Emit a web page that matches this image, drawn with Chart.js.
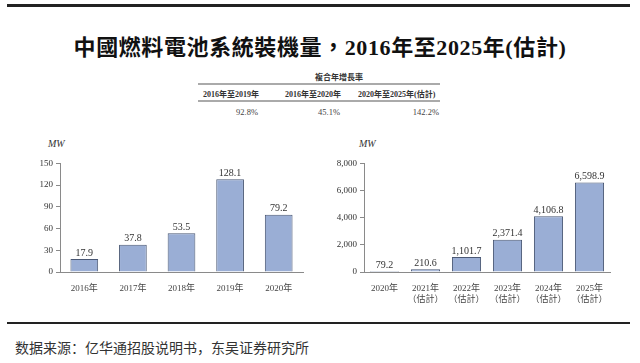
<!DOCTYPE html>
<html>
<head>
<meta charset="utf-8">
<script src="https://cdn.jsdelivr.net/npm/chart.js@4"></script>
<style>
  body { margin: 0; background: #fff; }
  #page { position: relative; width: 640px; height: 363px; overflow: hidden; background: #fff;
          font-family: "Liberation Serif", "Noto Sans CJK TC", serif; color: #222; }
  .rule { position: absolute; background: #222; }
  .abs { position: absolute; white-space: nowrap; }
  #title { left: 0; width: 640px; top: 29px; text-align: center; font-size: 22px; font-weight: bold; color: #111; letter-spacing: 0.6px; }
  .th { font-size: 8px; font-weight: bold; color: #333; }
  .tv { font-size: 8.5px; color: #444; }
  .tline { position: absolute; left: 198px; width: 242px; height: 2px; background: #aaa; }
  .unit { font-size: 10px; font-style: italic; color: #333; }
  #source { left: 15px; top: 337px; font-family: "Noto Sans CJK SC", sans-serif; font-size: 14px; color: #333; }
  canvas { position: absolute; }
</style>
</head>
<body>
<div id="page">
  <div class="rule" style="left:7px; width:623px; top:4px; height:3px;"></div>
  <div id="title" class="abs">中國燃料電池系統裝機量，2016年至2025年(估計)</div>

  <div class="abs th" style="left:198px; width:242px; top:71px; text-align:center; padding-left:40px; box-sizing:border-box;">複合年增長率</div>
  <div class="tline" style="top:83px;"></div>
  <div class="abs th" style="left:203px; top:88px;">2016年至2019年</div>
  <div class="abs th" style="left:285px; top:88px;">2016年至2020年</div>
  <div class="abs th" style="left:358px; top:88px;">2020年至2025年(估計)</div>
  <div class="tline" style="top:100px;"></div>
  <div class="abs tv" style="right:382px; top:107px;">92.8%</div>
  <div class="abs tv" style="right:300px; top:107px;">45.1%</div>
  <div class="abs tv" style="right:201px; top:107px;">142.2%</div>

  <div class="abs unit" style="left:48px; top:138px;">MW</div>
  <div class="abs unit" style="left:359px; top:138px;">MW</div>

  <canvas id="left" width="320" height="160" style="left:0; top:155px;"></canvas>
  <canvas id="right" width="320" height="160" style="left:320px; top:155px;"></canvas>

  <div class="rule" style="left:7px; width:623px; top:322px; height:2px;"></div>
  <div id="source" class="abs">数据来源：亿华通招股说明书，东吴证券研究所</div>
</div>

<script>
const historyYears = ['2016年', '2017年', '2018年', '2019年', '2020年'];
const historyValues = [17.9, 37.8, 53.5, 128.1, 79.2];

const forecastYears = ['2020年', ['2021年', '（估計）'], ['2022年', '（估計）'], ['2023年', '（估計）'], ['2024年', '（估計）'], ['2025年', '（估計）']];
const forecastValues = [79.2, 210.6, 1101.7, 2371.4, 4106.8, 6598.9];

const leftTicks = [0, 30, 60, 90, 120, 150];
const rightTicks = [0, 2000, 4000, 6000, 8000];

const serif = "'Liberation Serif', 'Noto Sans CJK TC', serif";
const barFill = '#9aaed5';
const barEdge = '#4a5874';
const axisColor = '#8a8a8a';

function fmt(v) {
    return v.toLocaleString('en-US', { minimumFractionDigits: 1, maximumFractionDigits: 1 });
}

// value above each bar, placed from the bar elements the scales produced
const valueLabels = {
    id: 'valueLabels',
    afterDatasetsDraw(chart) {
        const ctx = chart.ctx;
        const meta = chart.getDatasetMeta(0);
        const data = chart.data.datasets[0].data;
        ctx.save();
        ctx.font = '10px ' + serif;
        ctx.fillStyle = '#333';
        ctx.textAlign = 'center';
        ctx.textBaseline = 'bottom';
        meta.data.forEach((bar, i) => {
            ctx.fillText(fmt(data[i]), bar.x, bar.y - 1);
        });
        ctx.restore();
    }
};

function makeChart(id, labels, values, ticks, yWidth, padRight, barPct) {
    return new Chart(document.getElementById(id), {
        type: 'bar',
        data: {
            labels: labels,
            datasets: [{
                data: values,
                backgroundColor: barFill,
                borderColor: barEdge,
                borderWidth: 1,
                categoryPercentage: 1,
                barPercentage: barPct
            }]
        },
        options: {
            responsive: false,
            animation: false,
            events: [],
            layout: { padding: { top: 8, right: padRight, bottom: 8, left: 0 } },
            plugins: { legend: { display: false }, tooltip: { enabled: false } },
            scales: {
                x: {
                    grid: { display: false },
                    border: { display: true, color: axisColor, width: 1 },
                    ticks: { color: '#444', font: { family: serif, size: 9 }, padding: 3, maxRotation: 0, autoSkip: false },
                    afterFit: s => { s.height = 35; }
                },
                y: {
                    min: 0,
                    max: ticks[ticks.length - 1],
                    afterBuildTicks: s => { s.ticks = ticks.map(v => ({ value: v })); },
                    grid: { drawOnChartArea: false, drawTicks: true, tickLength: 4, color: axisColor },
                    border: { display: true, color: axisColor, width: 1 },
                    ticks: {
                        color: '#333',
                        font: { family: serif, size: 9 },
                        padding: 3,
                        callback: v => v.toLocaleString('en-US')
                    },
                    afterFit: s => { s.width = yWidth; }
                }
            }
        },
        plugins: [valueLabels]
    });
}

makeChart('left', historyYears, historyValues, leftTicks, 60, 17, 0.57);
makeChart('right', forecastYears, forecastValues, rightTicks, 44, 30, 0.71);
</script>
</body>
</html>
